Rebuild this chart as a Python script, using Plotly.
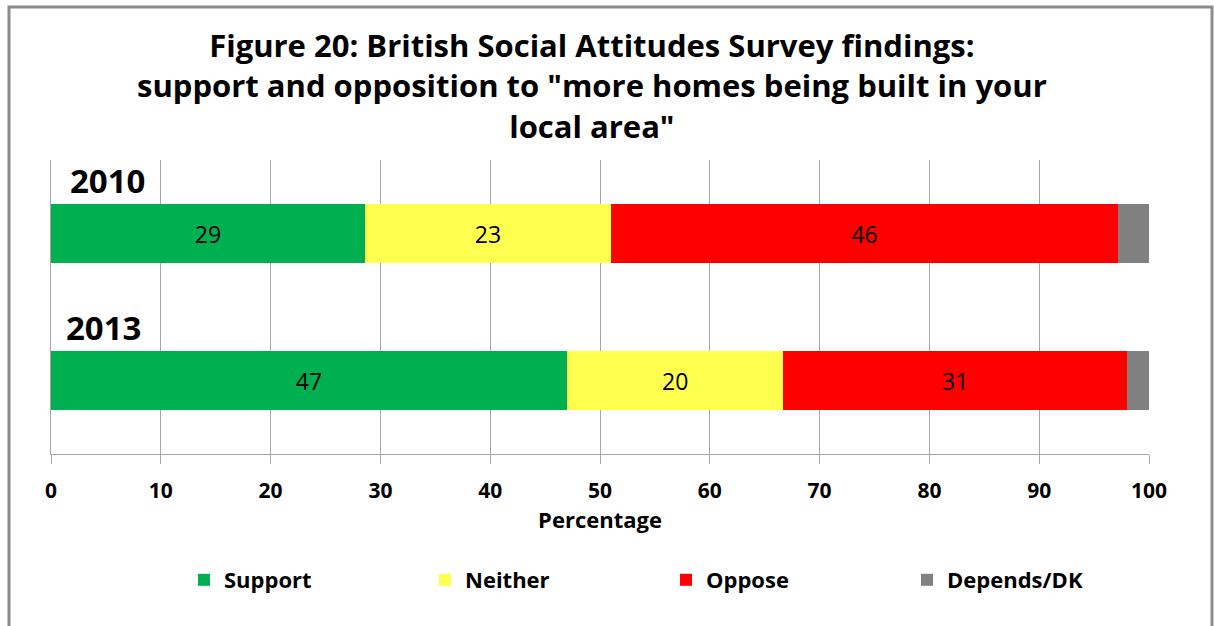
import plotly.graph_objects as go

years = ["2010", "2013"]
series = ["Support", "Neither", "Oppose", "Depends/DK"]
support = [28.6, 47.0]
neither = [22.4, 19.7]
oppose = [46.2, 31.3]
depends = [2.8, 2.0]
support_lbl = ["29", "47"]
neither_lbl = ["23", "20"]
oppose_lbl = ["46", "31"]
depends_lbl = ["", ""]
colors = ["#00B050", "#FFFF4F", "#FF0000", "#808080"]
ticks = [0, 10, 20, 30, 40, 50, 60, 70, 80, 90, 100]

FONT = "Open Sans"
fig = go.Figure()
for name, vals, lbl, col in zip(series, [support, neither, oppose, depends],
                                [support_lbl, neither_lbl, oppose_lbl, depends_lbl], colors):
    fig.add_trace(go.Bar(
        name=name, y=years, x=vals, orientation="h", width=0.4,
        marker=dict(color=col, line=dict(width=0)),
        text=lbl, textposition="inside", insidetextanchor="middle",
        textangle=0,
        textfont=dict(family=FONT, size=23, color="black"),
        hoverinfo="x+name",
    ))

fig.update_layout(
    barmode="stack",
    width=1214, height=626,
    margin=dict(l=51, r=65, t=160, b=172),
    paper_bgcolor="white", plot_bgcolor="white",
    font=dict(family=FONT, color="black"),
    xaxis=dict(
        range=[0, 100], tickvals=ticks, ticktext=[str(t) for t in ticks],
        showgrid=True, gridcolor="#A6A6A6", gridwidth=1,
        showline=True, linecolor="#A6A6A6", linewidth=1,
        ticks="outside", ticklen=9, tickcolor="#A6A6A6",
        ticklabelstandoff=9,
        tickfont=dict(family=FONT, size=21, color="black", weight="bold"),
        title=dict(text="<b>Percentage</b>", font=dict(family=FONT, size=22, color="black"), standoff=4),
        zeroline=False, fixedrange=True,
    ),
    yaxis=dict(
        type="category",
        categoryorder="array", categoryarray=years,
        range=[len(years) - 0.5, -0.5],
        showticklabels=False, showgrid=False,
        showline=True, linecolor="#A6A6A6", linewidth=1,
        fixedrange=True,
    ),
    legend=dict(
        orientation="h", x=(184 - 51) / 1098, xanchor="left",
        y=-(580 - 454) / 294, yanchor="middle",
        font=dict(family=FONT, size=22, color="black", weight="bold"),
        entrywidth=196, traceorder="normal",
    ),
    showlegend=True,
)

# Title
fig.add_annotation(
    text="<b>Figure 20: British Social Attitudes Survey findings:<br>support and opposition to \"more homes being built in your<br>local area\"</b>",
    x=(592 - 51) / 1098, xref="paper", xanchor="center",
    y=1 + (160 - 22) / 294, yref="paper", yanchor="top",
    showarrow=False, align="center",
    font=dict(family=FONT, size=31, color="black"),
)

# Year labels (category index on a category axis)
for i, (yr, px) in enumerate(zip(years, [107, 103])):
    fig.add_annotation(
        text=f"<b>{yr}</b>", x=(px - 51) / 1098, xref="paper",
        y=i, yref="y", yshift=53, xanchor="center", yanchor="middle",
        showarrow=False, font=dict(family=FONT, size=33, color="black"),
    )

# Outer frame
fig.add_shape(type="rect", xref="paper", yref="paper",
              x0=(9 - 51) / 1098, x1=(1212 - 51) / 1098,
              y0=(454 - 640) / 294, y1=(454 - 7) / 294,
              line=dict(color="#8C8C8C", width=3), fillcolor="rgba(0,0,0,0)", layer="below")

fig.write_html("out.html")
